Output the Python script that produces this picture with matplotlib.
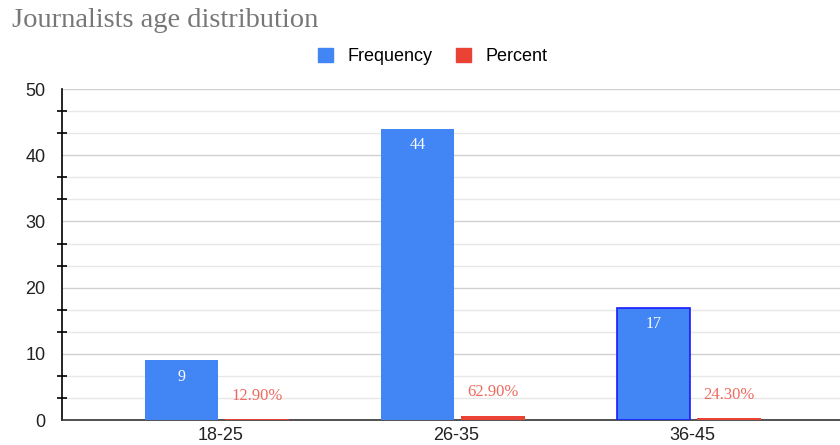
import numpy as np
import matplotlib.pyplot as plt
from matplotlib.ticker import MultipleLocator, FixedLocator

# data
ages = ['18-25', '26-35', '36-45']
frequency = [9, 44, 17]
percent = [0.129, 0.629, 0.243]
percent_labels = ['12.90%', '62.90%', '24.30%']

blue = '#4285F4'
red = '#EA4335'

fig = plt.figure(figsize=(8.4, 4.45), dpi=100)
ax = fig.add_axes([0.074, 0.056, 0.93, 0.744])

x = np.arange(len(ages))
w = 0.31
b1 = ax.bar(x - 0.165, frequency, w, color=blue, zorder=3)
b2 = ax.bar(x + 0.155, percent, 0.27, color=red, zorder=3)
# the last frequency bar has a darker outline (selected in the original)
b1[2].set_edgecolor('#1a1aff')
b1[2].set_linewidth(1.2)

for rect, v in zip(b1, frequency):
    ax.annotate(str(v), (rect.get_x() + rect.get_width() / 2, v),
                xytext=(0, -12), textcoords='offset points',
                ha='center', va='center', color='white',
                fontsize=11.5, family='Liberation Serif', zorder=4)
for rect, v, lab in zip(b2, percent, percent_labels):
    ax.annotate(lab, (rect.get_x() + rect.get_width() / 2, v),
                xytext=(0, 17), textcoords='offset points',
                ha='center', va='center', color='#EE6A5F',
                fontsize=12, family='Liberation Serif', zorder=4)

ax.set_xlim(-0.67, 2.64)
ax.set_ylim(0, 50)
ax.set_xticks(x)
ax.set_xticklabels(ages, family='Liberation Sans', fontsize=13, color='#222222')
ax.tick_params(axis='x', length=0, pad=5)

ax.yaxis.set_major_locator(MultipleLocator(10))
minors = [m for m in np.arange(0, 50.01, 10 / 3) if abs(m / 10 - round(m / 10)) > 0.01]
ax.yaxis.set_minor_locator(FixedLocator(minors))
ax.tick_params(axis='y', which='major', length=0, pad=12, labelsize=13,
               labelcolor='#222222')
ax.tick_params(axis='y', which='minor', length=7, width=1.2, direction='inout',
               color='black')
for lab in ax.get_yticklabels():
    lab.set_family('Liberation Sans')

ax.grid(axis='y', which='major', color='#d0d0d0', lw=1, zorder=0)
ax.grid(axis='y', which='minor', color='#e8e8e8', lw=1, zorder=0)

for s in ['top', 'right']:
    ax.spines[s].set_visible(False)
ax.spines['left'].set_color('black')
ax.spines['left'].set_linewidth(1.2)
ax.spines['bottom'].set_color('#333333')
ax.spines['bottom'].set_linewidth(1.2)

fig.text(0.014, 0.953, 'Journalists age distribution', family='Liberation Serif',
         fontsize=20.5, color='#777777', va='center', ha='left')

handles = [plt.Rectangle((0, 0), 1, 1, color=blue), plt.Rectangle((0, 0), 1, 1, color=red)]
fig.legend(handles, ['Frequency', 'Percent'], loc='center', bbox_to_anchor=(0.515, 0.873),
           ncol=2, frameon=False, handlelength=0.85, handleheight=0.85,
           columnspacing=1.3, handletextpad=0.8,
           prop={'family': 'Liberation Sans', 'size': 13})

fig.savefig('out.png', dpi=100)
